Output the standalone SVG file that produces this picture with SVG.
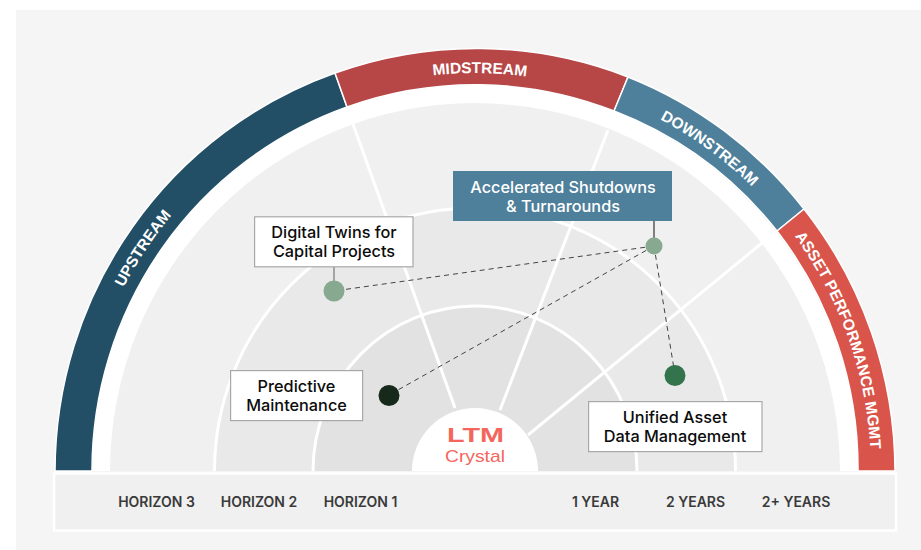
<svg xmlns="http://www.w3.org/2000/svg" width="921" height="550" viewBox="0 0 921 550">
<style>
.band{stroke:#fff;stroke-width:1.5}
.ring{stroke:#fff;stroke-width:3}
.spoke{stroke:#fff;stroke-width:3;fill:none}
.arc{font:700 15.5px "Liberation Sans",Arial,sans-serif;fill:#fff;text-anchor:middle}
.box{fill:#fff;stroke:#a8a8a8;stroke-width:1.2}
.lbl{font:500 16.3px Inter,"Liberation Sans",sans-serif;fill:#0c0c0c;text-anchor:middle}
.ax{font:600 14px Inter,"Liberation Sans",sans-serif;fill:#3a3a3a;text-anchor:middle}
.dash{stroke:#444;stroke-width:1;stroke-dasharray:5 4;fill:none}
</style>
<defs><path id="tp" d="M79 471A396 398 0 0 1 871 471" fill="none"/></defs>
<rect width="921" height="550" fill="#fff"/>
<rect x="16" y="10" width="905" height="540" fill="#f5f5f5"/>
<g id="radar">
<path d="M110 471A365 368 0 0 1 840 471Z" fill="#f0f0f0"/>
<path d="M92 471A383 386 0 0 1 858 471H840A365 368 0 0 0 110 471Z" fill="#fff"/>
<path class="ring" d="M214.500 471A260.500 263 0 0 1 735.500 471" fill="#e9e9e9"/>
<path class="ring" d="M313 471A162 165 0 0 1 637 471" fill="#e2e2e2"/>
<line class="spoke" x1="353" y1="124" x2="455" y2="408"/>
<line class="spoke" x1="608" y1="130" x2="500" y2="410"/>
<line class="spoke" x1="762" y1="243" x2="528" y2="435"/>
</g>
<g id="band-upstream"><path class="band" d="M55 471A420 423 0 0 1 335 73L347 107A383 386 0 0 0 92 471Z" fill="#234f66"/><text class="arc"><textPath href="#tp" startOffset="234">UPSTREAM</textPath></text></g>
<g id="band-midstream"><path class="band" d="M335 73A420 423 0 0 1 628 77L614 111A383 386 0 0 0 347 107Z" fill="#b74646"/><text class="arc"><textPath href="#tp" startOffset="628">MIDSTREAM</textPath></text></g>
<g id="band-downstream"><path class="band" d="M628 77A420 423 0 0 1 804 209L777 231A383 386 0 0 0 614 111Z" fill="#4e7f9b"/><text class="arc"><textPath href="#tp" startOffset="873">DOWNSTREAM</textPath></text></g>
<g id="band-apm"><path class="band" d="M804 209A420 423 0 0 1 895 471H858A383 386 0 0 0 777 231Z" fill="#d9554b"/><text class="arc"><textPath href="#tp" startOffset="1110">ASSET PERFORMANCE MGMT</textPath></text></g>
<g id="axis">
<rect x="54" y="473.500" width="842" height="57" fill="#f0f0f0" stroke="#fff" stroke-width="2.500"/>
<text class="ax" x="156.500" y="507">HORIZON 3</text>
<text class="ax" x="259" y="507">HORIZON 2</text>
<text class="ax" x="360.500" y="507">HORIZON 1</text>
<text class="ax" x="595.500" y="507">1 YEAR</text>
<text class="ax" x="695.500" y="507">2 YEARS</text>
<text class="ax" x="796" y="507">2+ YEARS</text>
</g>
<g id="logo">
<path d="M412 471A63 63 0 0 1 538 471Z" fill="#fff"/>
<text x="447" y="442" font-family="'Liberation Sans',sans-serif" font-size="20" font-weight="700" fill="#f4665c" textLength="57" lengthAdjust="spacingAndGlyphs">LTM</text>
<text x="445" y="461.500" font-family="'Liberation Sans',sans-serif" font-size="17" fill="#f4665c" textLength="60" lengthAdjust="spacingAndGlyphs">Crystal</text>
</g>
<g id="connectors">
<line class="dash" x1="654" y1="246" x2="334" y2="291"/>
<line class="dash" x1="654" y1="246" x2="389" y2="395"/>
<line class="dash" x1="654" y1="246" x2="675" y2="375"/>
<line x1="334" y1="267" x2="334" y2="282" stroke="#777" stroke-width="1.200"/>
<line x1="654" y1="221" x2="654" y2="238" stroke="#333" stroke-width="1.200"/>
</g>
<g id="node-twins"><rect class="box" x="254.600" y="216.800" width="158.400" height="50"/><text class="lbl" x="334" y="238">Digital Twins for</text><text class="lbl" x="334" y="257">Capital Projects</text><circle cx="334" cy="291" r="10.500" fill="#86a98f"/></g>
<g id="node-shutdowns"><rect x="453" y="171" width="219" height="50" fill="#4e7f9b"/><text class="lbl" x="563" y="192.500" style="fill:#fff">Accelerated Shutdowns</text><text class="lbl" x="563" y="211.500" style="fill:#fff">&amp; Turnarounds</text><circle cx="654" cy="246" r="8.500" fill="#86a98f"/></g>
<g id="node-predictive"><rect class="box" x="230.600" y="370.600" width="132" height="50"/><text class="lbl" x="296.500" y="391.500">Predictive</text><text class="lbl" x="296.500" y="410.500">Maintenance</text><circle cx="389" cy="395.500" r="10.500" fill="#16291a"/></g>
<g id="node-unified"><rect class="box" x="588.600" y="401.600" width="173.400" height="50"/><text class="lbl" x="675" y="422.500">Unified Asset</text><text class="lbl" x="675" y="441.500">Data Management</text><circle cx="675" cy="375.500" r="10.500" fill="#34744d"/></g>
</svg>
